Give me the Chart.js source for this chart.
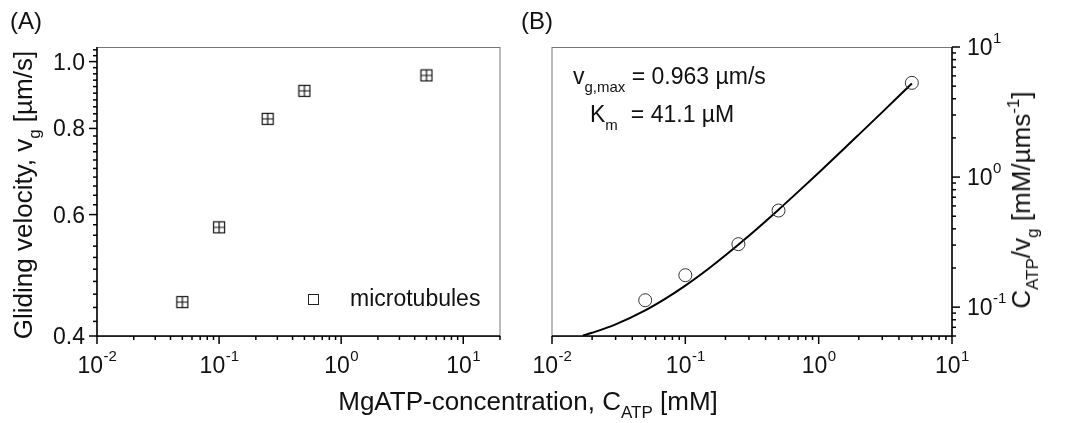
<!DOCTYPE html>
<html>
<head>
<meta charset="utf-8">
<script src="https://cdn.jsdelivr.net/npm/chart.js@4/dist/chart.umd.min.js"></script>
<style>
  body { margin: 0; background: #fff; width: 1066px; height: 423px; overflow: hidden; position: relative;
         font-family: "Liberation Sans", Arial, sans-serif; color: #111; }
  .wrap { position: absolute; top: 0; }
  #wrapA { left: 0; }
  #wrapB { left: 520px; }
  .lbl { position: absolute; font-size: 23px; line-height: 1; white-space: nowrap; }
  .title { font-size: 26px; }
  .rot { transform: translate(-50%, -50%) rotate(-90deg); }
  .ctr { transform: translateX(-50%); }
  .sb { font-size: 15px; position: relative; top: 8px; }
  .title .sb { font-size: 17px; top: 8px; }
  .sp { font-size: 17px; position: relative; top: -11px; }
</style>
</head>
<body>
<div class="wrap" id="wrapA"><canvas id="chartA" width="530" height="423"></canvas></div>
<div class="wrap" id="wrapB"><canvas id="chartB" width="546" height="423"></canvas></div>

<div class="lbl" style="left:10px; top:9px; font-size:24px;">(A)</div>
<div class="lbl" style="left:521px; top:9px; font-size:24px;">(B)</div>
<div class="lbl title rot" style="left:23px; top:195px;">Gliding velocity, v<span class="sb">g</span> [µm/s]</div>
<div class="lbl title ctr" style="left:528px; top:388px;">MgATP-concentration, C<span class="sb">ATP</span> [mM]</div>
<div class="lbl title rot" style="left:1021px; top:200px;">C<span class="sb">ATP</span>/v<span class="sb">g</span> [mM/µms<span class="sp">-1</span>]</div>
<div class="lbl" style="left:573px; top:65px;">v<span class="sb">g,max</span> = 0.963 µm/s</div>
<div class="lbl" style="left:590px; top:103px;">K<span class="sb">m</span><span style="margin-left:13px">= 41.1 µM</span></div>

<script>
// MgATP concentrations [mM] and measured gliding velocities [µm/s]
const concentration = [0.05, 0.1, 0.25, 0.5, 5];
const glidingVelocity = [0.448, 0.575, 0.826, 0.907, 0.955];

// Hanes-Woolf representation C/v [mM/µms^-1]
const hanesRatio = [0.113, 0.176, 0.305, 0.553, 5.30];

// points along the fitted curve
const fitConcentration = [0.017, 0.02, 0.03, 0.05, 0.07, 0.1, 0.15, 0.2, 0.3, 0.5, 0.7, 1, 1.5, 2, 3, 5];
const fitRatio = [0.0603, 0.0635, 0.0738, 0.0946, 0.1154, 0.1465, 0.1984, 0.2504, 0.3542, 0.5619,
                  0.7696, 1.081, 1.600, 2.120, 3.158, 5.235];

// tick labels
const concTickExponents = ['-2', '-1', '0', '1'];
const velocityTicks = [0.4, 0.6, 0.8, 1.0];
const velocityTickLabels = ['0.4', '0.6', '0.8', '1.0'];
const ratioTickExponents = ['-1', '0', '1'];

const FONT = '"Liberation Sans", Arial, sans-serif';
const BIG = '23px ' + FONT;
const SMALL = '15px ' + FONT;

// square with error-bar cross, used as point style in panel A
function boxCross(size) {
    const c = document.createElement('canvas');
    c.width = c.height = size + 2;
    const g = c.getContext('2d');
    const m = (size + 2) / 2;
    g.strokeStyle = '#111';
    g.lineWidth = 1.2;
    g.strokeRect(1.5, 1.5, size - 1, size - 1);
    g.beginPath();
    g.moveTo(m, 1.5); g.lineTo(m, size + 0.5);
    g.moveTo(1.5, m); g.lineTo(size + 0.5, m);
    g.stroke();
    return c;
}

function powerLabel(ctx, exp, x, y, align) {
    ctx.font = BIG;
    const wb = ctx.measureText('10').width;
    ctx.font = SMALL;
    const we = ctx.measureText(exp).width;
    const left = align === 'center' ? x - (wb + we) / 2 : x;
    ctx.textAlign = 'left';
    ctx.textBaseline = 'alphabetic';
    ctx.font = BIG;
    ctx.fillText('10', left, y);
    ctx.font = SMALL;
    ctx.fillText(exp, left + wb + 0.5, y - 12);
}

function logTickValues(min, max) {
    const out = [];
    for (let d = Math.floor(Math.log10(min)); d <= Math.ceil(Math.log10(max)); d++) {
        for (let k = 1; k <= 9; k++) {
            const v = k * Math.pow(10, d);
            if (v >= min * 0.999 && v <= max * 1.001) out.push({ v, major: k === 1, exp: d });
        }
    }
    return out;
}

function tick(ctx, x1, y1, x2, y2) {
    ctx.beginPath();
    ctx.moveTo(x1, y1);
    ctx.lineTo(x2, y2);
    ctx.stroke();
}

// frame, tick marks, tick labels and inset legend
const axesPlugin = {
    id: 'axesDraw',
    afterDatasetsDraw(chart, args, o) {
        const { ctx, chartArea: a } = chart;
        const xs = chart.scales.x, ys = chart.scales.y;
        ctx.save();

        ctx.strokeStyle = '#777';
        ctx.lineWidth = 1;
        ctx.strokeRect(a.left, a.top + 0.5, a.width, a.height);

        ctx.strokeStyle = '#000';
        ctx.fillStyle = '#111';
        ctx.lineWidth = 1.5;
        tick(ctx, a.left, a.bottom, a.right, a.bottom);

        // bottom axis, logarithmic
        logTickValues(xs.min, xs.max).forEach(t => {
            const px = xs.getPixelForValue(t.v);
            tick(ctx, px, a.bottom, px, a.bottom + (t.major ? 8 : 4));
            if (t.major) powerLabel(ctx, o.xExponents[t.exp - Math.round(Math.log10(xs.min))], px, a.bottom + 37, 'center');
        });

        if (o.side === 'left') {
            tick(ctx, a.left, a.top, a.left, a.bottom);
            // linear minor steps on the log velocity axis
            for (let v = ys.min; v <= ys.max + 1e-9; v += o.yMinorStep) {
                const py = ys.getPixelForValue(v);
                const idx = o.yMajor.findIndex(m => Math.abs(m - v) < 1e-6);
                tick(ctx, a.left, py, a.left - (idx >= 0 ? 8 : 4), py);
                if (idx >= 0) {
                    ctx.font = BIG;
                    ctx.textAlign = 'right';
                    ctx.textBaseline = 'alphabetic';
                    ctx.fillText(o.yLabels[idx], a.left - 12, py + 8);
                }
            }
        } else {
            tick(ctx, a.right, a.top, a.right, a.bottom);
            logTickValues(ys.min, ys.max).forEach(t => {
                const py = ys.getPixelForValue(t.v);
                tick(ctx, a.right, py, a.right + (t.major ? 8 : 4), py);
                if (t.major) powerLabel(ctx, o.yExponents[t.exp + 1], a.right + 15, py + 8, 'left');
            });
        }

        if (o.legend) {
            const lx = a.left + o.legend[0] * a.width;
            const ly = a.top + o.legend[1] * a.height;
            ctx.strokeStyle = '#222';
            ctx.lineWidth = 1;
            ctx.strokeRect(Math.round(lx - 5) + 0.5, Math.round(ly - 5) + 0.5, 10, 10);
            ctx.font = BIG;
            ctx.textAlign = 'left';
            ctx.textBaseline = 'middle';
            ctx.fillText(chart.data.datasets[0].label, lx + 37, ly + 1);
        }
        ctx.restore();
    }
};

function hiddenScale(min, max, horizontal) {
    return {
        type: 'logarithmic',
        min: min,
        max: max,
        ticks: { display: false },
        grid: { display: false },
        border: { display: false },
        afterFit(s) {
            if (horizontal) s.height = 0; else s.width = 0;
        }
    };
}

const common = {
    responsive: false,
    animation: false,
    plugins: { legend: { display: false }, tooltip: { enabled: false } }
};

// (A) gliding velocity vs MgATP concentration
new Chart(document.getElementById('chartA'), {
    type: 'scatter',
    data: {
        datasets: [{
            label: 'microtubules',
            data: concentration.map((c, i) => ({ x: c, y: glidingVelocity[i] })),
            pointStyle: boxCross(12),
            pointRadius: 6
        }]
    },
    options: {
        ...common,
        layout: { padding: { left: 97, right: 30, top: 47, bottom: 87 } },
        scales: {
            x: hiddenScale(0.01, 20, true),
            y: hiddenScale(0.4, 1.05, false)
        },
        plugins: {
            ...common.plugins,
            axesDraw: {
                side: 'left',
                xExponents: concTickExponents,
                yMajor: velocityTicks,
                yLabels: velocityTickLabels,
                yMinorStep: 0.02,
                legend: [0.536, 0.872]
            }
        }
    },
    plugins: [axesPlugin]
});

// (B) Hanes-Woolf plot with fit
new Chart(document.getElementById('chartB'), {
    type: 'scatter',
    data: {
        datasets: [{
            label: 'C/v',
            data: concentration.map((c, i) => ({ x: c, y: hanesRatio[i] })),
            pointStyle: 'circle',
            pointRadius: 6.5,
            borderColor: '#333',
            borderWidth: 1,
            backgroundColor: 'rgba(0,0,0,0)'
        }, {
            label: 'fit',
            data: fitConcentration.map((c, i) => ({ x: c, y: fitRatio[i] })),
            showLine: true,
            pointRadius: 0,
            borderColor: '#000',
            borderWidth: 2,
            cubicInterpolationMode: 'monotone'
        }]
    },
    options: {
        ...common,
        layout: { padding: { left: 32, right: 114, top: 47, bottom: 87 } },
        scales: {
            x: hiddenScale(0.01, 10, true),
            y: hiddenScale(0.06, 10, false)
        },
        plugins: {
            ...common.plugins,
            axesDraw: {
                side: 'right',
                xExponents: concTickExponents,
                yExponents: ratioTickExponents
            }
        }
    },
    plugins: [axesPlugin]
});
</script>
</body>
</html>
